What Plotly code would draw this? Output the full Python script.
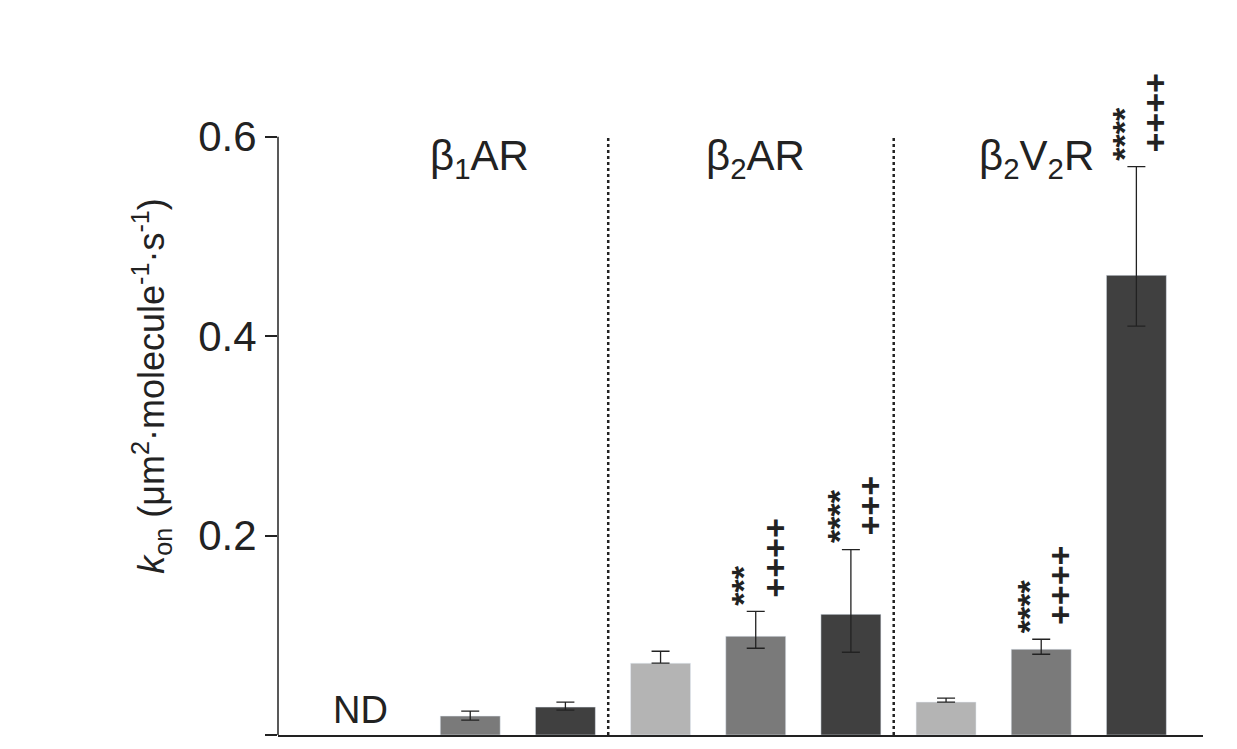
import plotly.graph_objects as go

pos = [0, 1, 2, 3, 4, 5, 6, 7, 8]
vals = [None, 0.019, 0.028, 0.072, 0.099, 0.121, 0.033, 0.086, 0.461]
err_up = [0, 0.005, 0.005, 0.012, 0.025, 0.065, 0.004, 0.010, 0.109]
err_dn = [0, 0.004, 0.003, 0.0, 0.012, 0.038, 0.0, 0.005, 0.051]
colors = ["#b4b4b4", "#7a7a7a", "#404040"] * 3
groups = ["β<sub>1</sub>AR", "β<sub>2</sub>AR", "β<sub>2</sub>V<sub>2</sub>R"]
group_x = [1.1, 4.0, 6.95]
stars = [(4, "***", "++++"), (5, "****", "+++"), (7, "****", "++++"), (8, "****", "++++")]

fig = go.Figure()
fig.add_bar(x=pos, y=vals, marker_color=colors, width=0.63,
            error_y=dict(type="data", array=err_up, arrayminus=err_dn,
                         color="#222", thickness=1.3, width=9))
for gx, g in zip(group_x, groups):
    fig.add_annotation(x=gx, y=0.578, text=g, showarrow=False,
                       font=dict(size=42, color="#222"))
fig.add_annotation(x=-0.15, y=0.002, text="ND", showarrow=False, yanchor="bottom",
                   font=dict(size=38, color="#222"))
for i, s, p in stars:
    top = vals[i] + err_up[i] + 0.004
    fig.add_annotation(x=i - 0.13, y=top, text="<b>" + s + "</b>", textangle=-90, showarrow=False,
                       yanchor="bottom", font=dict(size=34, color="#222"))
    fig.add_annotation(x=i + 0.2, y=top + 0.008, text="<b>" + p + "</b>", textangle=-90, showarrow=False,
                       yanchor="bottom", font=dict(size=34, color="#222"))
for xb in [2.45, 5.45]:
    fig.add_shape(type="line", x0=xb, x1=xb, y0=0, y1=0.6, xref="x", yref="y",
                  line=dict(color="#222", width=2.5, dash="dot"))
fig.add_shape(type="line", x0=0, x1=0, y0=0, y1=0.6, xref="x domain", yref="y",
              line=dict(color="#222", width=1.5))

fig.update_layout(
    width=1237, height=749, plot_bgcolor="white", paper_bgcolor="white",
    margin=dict(l=270, r=42, t=29, b=22), showlegend=False,
    font=dict(family="Liberation Sans, Arial", color="#222"),
    xaxis=dict(range=[-1.02, 8.7], showticklabels=False, ticks="", showgrid=False,
               showline=True, linecolor="#222", linewidth=1.5, zeroline=False),
    yaxis=dict(range=[0, 0.7], tickvals=[0, 0.2, 0.4, 0.6],
               ticktext=["0.0", "0.2", "0.4", "0.6"], ticks="outside", ticklen=12,
               tickcolor="#222", tickwidth=1.5,
               showgrid=False, showline=False, zeroline=False, tickfont=dict(size=42),
               title=dict(text="<i>k</i><sub>on</sub> (μm<sup>2</sup>·molecule<sup>-1</sup>·s<sup>-1</sup>)",
                          font=dict(size=36), standoff=22)),
)
fig.write_html("out.html")
